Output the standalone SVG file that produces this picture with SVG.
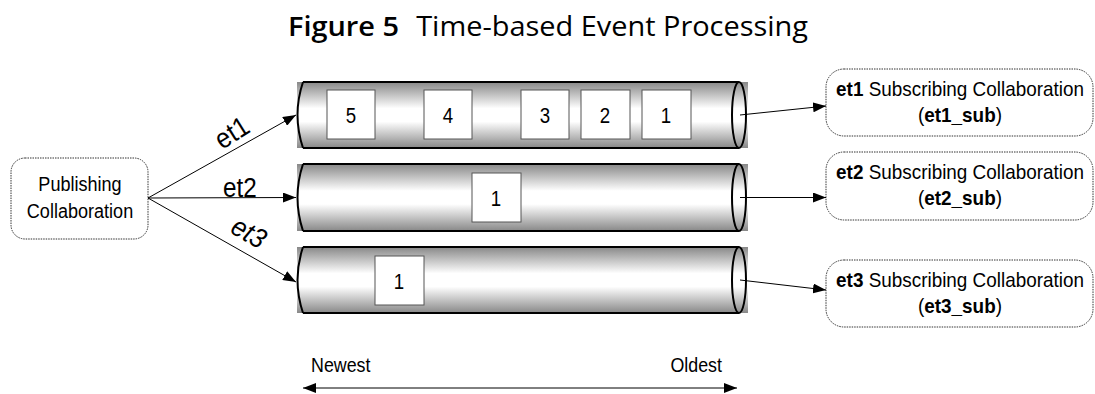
<svg xmlns="http://www.w3.org/2000/svg" width="1095" height="394" viewBox="0 0 1095 394">
  <defs>
    <linearGradient id="tubeShade" x1="0" y1="0" x2="0" y2="1">
      <stop offset="0" stop-color="#888888"/>
      <stop offset="0.4" stop-color="#ffffff"/>
      <stop offset="0.6" stop-color="#ffffff"/>
      <stop offset="1" stop-color="#888888"/>
    </linearGradient>
    <marker id="arrow" viewBox="0 0 13 10" refX="13" refY="5" markerWidth="13" markerHeight="10" markerUnits="userSpaceOnUse" orient="auto-start-reverse">
      <path d="M0,0 L13,5 L0,10 z" fill="#000"/>
    </marker>
    <style>
      .title { font-family: "Open Sans", "Liberation Sans", sans-serif; font-size: 27px; fill: #000; }
      .lbl { font-family: "Liberation Sans", Arial, sans-serif; fill: #000; }
      .node { fill: #fff; stroke: #333; stroke-width: 1; stroke-dasharray: 1.5 1; }
      .tube { fill: none; stroke: #000; stroke-width: 2; }
      .box { fill: #fff; stroke: #555; stroke-width: 1; }
      .conn { fill: none; stroke: #000; stroke-width: 1; }
    </style>
  </defs>

  <rect width="1095" height="394" fill="#fff"/>

  <text class="title" x="548" y="36" text-anchor="middle" textLength="520" lengthAdjust="spacingAndGlyphs"><tspan font-weight="600">Figure 5</tspan><tspan dx="16">Time-based Event Processing</tspan></text>

  <!-- publisher -->
  <g id="publisher">
    <rect class="node" x="11" y="158" width="137" height="81" rx="14"/>
    <text class="lbl" font-size="21" text-anchor="middle" transform="translate(80,191) scale(0.86,1)">Publishing</text>
    <text class="lbl" font-size="21" text-anchor="middle" transform="translate(80,218) scale(0.86,1)">Collaboration</text>
  </g>

  <!-- event queues -->
  <g id="queue-et1">
    <rect x="297" y="82" width="451" height="66" fill="url(#tubeShade)"/>
    <path class="tube" d="M303,82 H739 M303,148 H739 M303,82 Q292,115 303,148"/>
    <ellipse class="tube" cx="739" cy="115" rx="7" ry="33"/>
    <rect class="box" x="327" y="90" width="48" height="49"/>
    <text class="lbl" font-size="22" text-anchor="middle" transform="translate(351,123) scale(0.85,1)">5</text>
    <rect class="box" x="424" y="90" width="48" height="49"/>
    <text class="lbl" font-size="22" text-anchor="middle" transform="translate(448,123) scale(0.85,1)">4</text>
    <rect class="box" x="521" y="90" width="48" height="49"/>
    <text class="lbl" font-size="22" text-anchor="middle" transform="translate(545,123) scale(0.85,1)">3</text>
    <rect class="box" x="581" y="90" width="49" height="49"/>
    <text class="lbl" font-size="22" text-anchor="middle" transform="translate(605,123) scale(0.85,1)">2</text>
    <rect class="box" x="642" y="90" width="49" height="49"/>
    <text class="lbl" font-size="22" text-anchor="middle" transform="translate(666,123) scale(0.85,1)">1</text>
  </g>

  <g id="queue-et2">
    <rect x="297" y="164" width="451" height="67" fill="url(#tubeShade)"/>
    <path class="tube" d="M303,164 H739 M303,231 H739 M303,164 Q292,197.5 303,231"/>
    <ellipse class="tube" cx="739" cy="197.5" rx="7" ry="33.5"/>
    <rect class="box" x="472" y="173" width="49" height="49"/>
    <text class="lbl" font-size="22" text-anchor="middle" transform="translate(496,206) scale(0.85,1)">1</text>
  </g>

  <g id="queue-et3">
    <rect x="297" y="247" width="451" height="66" fill="url(#tubeShade)"/>
    <path class="tube" d="M303,247 H739 M303,313 H739 M303,247 Q292,280 303,313"/>
    <ellipse class="tube" cx="739" cy="280" rx="7" ry="33"/>
    <rect class="box" x="375" y="256" width="49" height="49"/>
    <text class="lbl" font-size="22" text-anchor="middle" transform="translate(399,289) scale(0.85,1)">1</text>
  </g>

  <!-- subscribers -->
  <g id="subscriber-et1">
    <rect class="node" x="826" y="69" width="267" height="67" rx="18"/>
    <text class="lbl" font-size="21" text-anchor="middle" transform="translate(960,96) scale(0.9,1)"><tspan font-weight="bold">et1</tspan> Subscribing Collaboration</text>
    <text class="lbl" font-size="21" text-anchor="middle" transform="translate(960,122) scale(0.9,1)">(<tspan font-weight="bold">et1_sub</tspan>)</text>
  </g>
  <g id="subscriber-et2">
    <rect class="node" x="826" y="152" width="267" height="68" rx="18"/>
    <text class="lbl" font-size="21" text-anchor="middle" transform="translate(960,179) scale(0.9,1)"><tspan font-weight="bold">et2</tspan> Subscribing Collaboration</text>
    <text class="lbl" font-size="21" text-anchor="middle" transform="translate(960,205) scale(0.9,1)">(<tspan font-weight="bold">et2_sub</tspan>)</text>
  </g>
  <g id="subscriber-et3">
    <rect class="node" x="826" y="260" width="267" height="67" rx="18"/>
    <text class="lbl" font-size="21" text-anchor="middle" transform="translate(960,287) scale(0.9,1)"><tspan font-weight="bold">et3</tspan> Subscribing Collaboration</text>
    <text class="lbl" font-size="21" text-anchor="middle" transform="translate(960,313) scale(0.9,1)">(<tspan font-weight="bold">et3_sub</tspan>)</text>
  </g>

  <!-- connectors -->
  <g id="connectors">
    <line class="conn" x1="148" y1="198" x2="296" y2="115" marker-end="url(#arrow)"/>
    <line class="conn" x1="148" y1="198" x2="296" y2="197.5" marker-end="url(#arrow)"/>
    <line class="conn" x1="148" y1="198" x2="296" y2="282" marker-end="url(#arrow)"/>
    <line class="conn" x1="740" y1="115" x2="826" y2="106" marker-end="url(#arrow)"/>
    <line class="conn" x1="740" y1="197.5" x2="826" y2="197.5" marker-end="url(#arrow)"/>
    <line class="conn" x1="740" y1="280" x2="826" y2="290" marker-end="url(#arrow)"/>
    <text class="lbl" font-size="28" transform="translate(222,150) rotate(-32) scale(0.9,1)">et1</text>
    <text class="lbl" font-size="27" transform="translate(223,197) scale(0.9,1)">et2</text>
    <text class="lbl" font-size="28" font-style="italic" transform="translate(229,232) rotate(30) scale(0.9,1)">et3</text>
    <line class="conn" x1="303" y1="388" x2="737" y2="388" marker-start="url(#arrow)" marker-end="url(#arrow)"/>
    <text class="lbl" font-size="21" transform="translate(311,372) scale(0.85,1)">Newest</text>
    <text class="lbl" font-size="21" text-anchor="end" transform="translate(722,372) scale(0.85,1)">Oldest</text>
  </g>
</svg>
